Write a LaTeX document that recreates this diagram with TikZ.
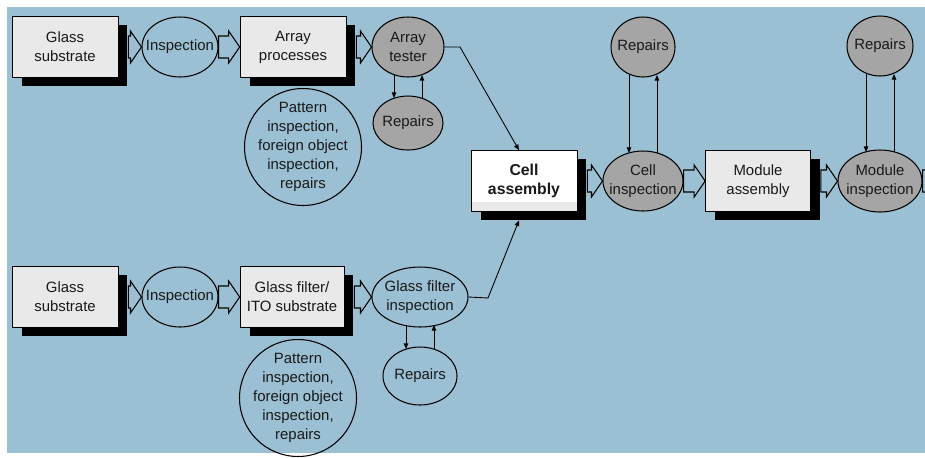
\documentclass[tikz,border=0pt]{standalone}
\usepackage{fontspec}
\setmainfont{Liberation Sans}
\usetikzlibrary{arrows.meta,calc,shadows}
\usetikzlibrary{shapes.geometric}

\definecolor{bgblue}{RGB}{155,192,212}
\definecolor{boxgrey}{RGB}{233,233,233}
\definecolor{ovalgrey}{RGB}{165,165,165}

\tikzset{
  txt/.style={font=\fontsize{8.5}{10.9}\selectfont, text=black!90, align=center},
  procbox/.style={txt, draw, fill=boxgrey, minimum width=2.12cm, minimum height=1.22cm, inner sep=0pt,
    drop shadow={shadow xshift=0.19cm, shadow yshift=-0.17cm, fill=black, opacity=1}},
  insp/.style={txt, ellipse, draw, line width=0.6pt, inner xsep=-5pt, inner ysep=0pt},
  repair/.style={insp, fill=ovalgrey},
  notes/.style={txt, circle, draw, line width=0.6pt, inner sep=-4pt, minimum size=2.34cm},
  blk/.style={draw, line width=0.6pt},
  link/.style={->, line width=0.5pt}
}

\newcommand{\blockarr}[2]{%
  \coordinate (ba) at (#1);
  \coordinate (bb) at (#2);
  \draw[blk] ($(ba)+(0,-11)$) -- ($(bb)+(-11,-11)$) -- ($(bb)+(-11,-16)$) -- (bb)
    -- ($(bb)+(-11,16)$) -- ($(bb)+(-11,11)$) -- ($(ba)+(0,11)$) -- cycle;}

\begin{document}
\begin{tikzpicture}[x=0.02cm, y=-0.02cm, >={Triangle[length=3.2pt,width=2.6pt]}]
\useasboundingbox (0,0) rectangle (925,457);
\clip (0,0) rectangle (925,457);
\fill[bgblue] (7,7) rectangle (925,453);

% top row
\node[procbox] (gs1) at (65,47) {Glass\\substrate};
\node[insp, minimum width=1.52cm, minimum height=1.2cm] (in1) at (180,47) {Inspection};
\node[procbox] (ap) at (293,47) {Array\\processes};
\node[repair, minimum width=1.44cm, minimum height=1.2cm] (at) at (408,47) {Array\\tester};
\node[repair, minimum width=1.4cm, minimum height=1.08cm] (rp1) at (408,123) {Repairs};
\node[notes] (pat1) at (303,147) {Pattern\\inspection,\\foreign object\\inspection,\\repairs};

% bottom row
\node[procbox] (gs2) at (65,297) {Glass\\substrate};
\node[insp, minimum width=1.52cm, minimum height=1.2cm] (in2) at (180,297) {Inspection};
\node[procbox, minimum width=2.08cm] (gf) at (292,297) {Glass filter/\\ITO substrate};
\node[insp, minimum width=1.92cm, minimum height=1.2cm] (gfi) at (420,297) {Glass filter\\inspection};
\node[insp, minimum width=1.48cm, minimum height=1.16cm] (rp2) at (420,376) {Repairs};
\node[notes] (pat2) at (298,398) {Pattern\\inspection,\\foreign object\\inspection,\\repairs};

% cell and module
\node[procbox, fill=white, font=\fontsize{9}{11}\selectfont\bfseries,
  path picture={\fill[boxgrey] (path picture bounding box.south west) rectangle ([yshift=0.2cm]path picture bounding box.south east);}]
  (ca) at (524,181) {Cell\\assembly};
\node[repair, minimum width=1.6cm, minimum height=1.2cm] (ci) at (643,181) {Cell\\inspection};
\node[procbox, minimum width=2.1cm] (ma) at (758,181) {Module\\assembly};
\node[repair, minimum width=1.68cm, minimum height=1.24cm] (mi) at (880,181) {Module\\inspection};
\node[repair, minimum width=1.28cm, minimum height=1.2cm] (rp3) at (643,47) {Repairs};
\node[repair, minimum width=1.32cm, minimum height=1.2cm] (rp4) at (880,46) {Repairs};
\coordinate (off) at (950,181);

\blockarr{$(gs1.east)+(10,0)$}{in1.west}
\blockarr{in1.east}{ap.west}
\blockarr{$(ap.east)+(10,0)$}{at.west}
\blockarr{$(gs2.east)+(10,0)$}{in2.west}
\blockarr{in2.east}{gf.west}
\blockarr{$(gf.east)+(10,0)$}{gfi.west}
\blockarr{$(ca.east)+(10,0)$}{ci.west}
\blockarr{ci.east}{ma.west}
\blockarr{$(ma.east)+(10,0)$}{mi.west}
\blockarr{mi.east}{off}

\foreach \u/\l in {at/rp1, gfi/rp2, rp3/ci, rp4/mi}
  { \draw[link] ([xshift=-0.28cm,yshift=0.05cm]\u.south) -- ([xshift=-0.28cm,yshift=-0.05cm]\l.north);
    \draw[link] ([xshift=0.28cm,yshift=-0.05cm]\l.north) -- ([xshift=0.28cm,yshift=0.05cm]\u.south);
  }

\coordinate (k1) at (460,47);
\coordinate (k2) at (488,298);
\draw[link] (at.east) -- (k1) -- ([xshift=-0.1cm]ca.north);
\draw[link] (gfi.east) -- (k2) -- ([xshift=-0.1cm,yshift=-0.17cm]ca.south);
\end{tikzpicture}
\end{document}
